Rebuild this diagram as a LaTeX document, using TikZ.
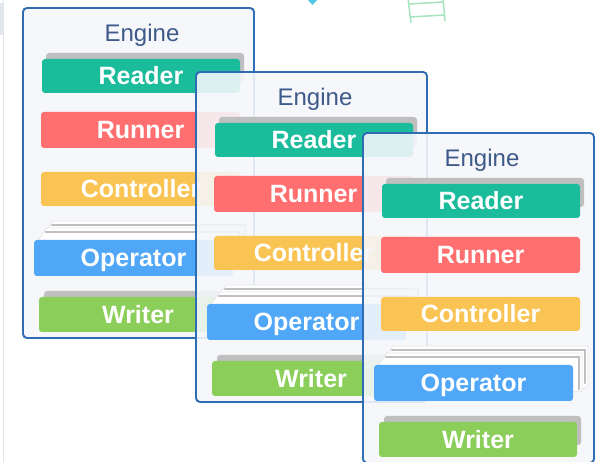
\documentclass[tikz,border=0pt]{standalone}
\usepackage{fontspec}
\setmainfont{Liberation Sans}
\definecolor{pborder}{HTML}{2E6DB4}
\definecolor{pfill}{HTML}{F5F7FA}
\definecolor{cread}{HTML}{1ABC9C}
\definecolor{crun}{HTML}{FF6F6F}
\definecolor{cctrl}{HTML}{F9C453}
\definecolor{cop}{HTML}{50A7F7}
\definecolor{cwrite}{HTML}{8BCE5A}
\definecolor{cshadow}{HTML}{BFBFBF}
\definecolor{clight}{HTML}{E6E6E6}
\definecolor{ceng}{HTML}{3D5A8A}
\definecolor{cladder}{HTML}{A6E4C0}
\definecolor{cdiam}{HTML}{4FC8E4}
\definecolor{cedge}{HTML}{E2E6EE}
\tikzset{
  item/.style={rectangle, rounded corners=3pt, inner sep=0pt, text=white,
    font=\bfseries\fontsize{25}{25}\selectfont, text height=18pt, text depth=0pt},
  enginelabel/.style={inner sep=0pt, text=ceng, font=\fontsize{24}{24}\selectfont,
    text height=18pt, text depth=0pt},
  shadowbar/.style={fill=cshadow, rounded corners=3pt},
  cardfill/.style={fill=white, draw=clight, line width=0.8pt, line join=round},
  cardedge/.style={draw=cshadow, line width=2.2pt, line cap=round},
  panelbg/.style={fill=pfill, fill opacity=0.89, rounded corners=4pt},
  panelline/.style={draw=pborder, line width=1.9pt, rounded corners=4pt}
}
\newcommand\enginepanel[3]{%
\begin{scope}[shift={(#2,#3)}]
  \fill[panelbg] (0,0) rectangle (231,330);
  \draw[panelline] (0,0) rectangle (231,330);
  \node[enginelabel] (#1-title) at (119,25) {Engine};
  \fill[shadowbar] (23,45) rectangle (221,74);
  \node[item, fill=cread, minimum width=198pt, minimum height=34pt] (#1-reader) at (118,68) {Reader};
  \node[item, fill=crun, minimum width=199pt, minimum height=36pt] (#1-runner) at (117.5,122) {Runner};
  \node[item, fill=cctrl, minimum width=199pt, minimum height=34pt] (#1-ctrl) at (117.5,181) {Controller};
  \filldraw[cardfill] (30,213) -- (225,213) -- (225,252) -- (218,258) -- (16,258) -- (16,232) -- cycle;
  \draw[cardedge] (29,217) -- (222,217) -- (222,250);
  \filldraw[cardfill] (24,220) -- (219,220) -- (219,258) -- (12,258) -- (12,236) -- cycle;
  \draw[cardedge] (23,224) -- (216,224) -- (216,256);
  \node[item, fill=cop, minimum width=199pt, minimum height=36pt] (#1-op) at (110.5,250) {Operator};
  \fill[shadowbar] (21,283) rectangle (218,312);
  \node[item, fill=cwrite, minimum width=198pt, minimum height=35pt] (#1-writer) at (115,306.5) {Writer};
\end{scope}}
\begin{document}
\begin{tikzpicture}[x=1pt,y=-1pt]
  \useasboundingbox (0,0) rectangle (598,462);
  \fill[white] (0,0) rectangle (598,462);
  % left edge decoration
  \fill[cedge] (0,3) rectangle (3,35);
  \draw[cedge, line width=1pt] (3,0) -- (3,462);
  % top decorations
  \fill[cdiam] (306,-2) -- (319,-2) -- (312.5,5) -- cycle;
  \draw[cladder, line width=1.5pt] (408,-2) -- (411,23);
  \draw[cladder, line width=1.5pt] (443,-2) -- (445,21);
  \draw[cladder, line width=1.5pt] (408.5,4) -- (443.5,2);
  \draw[cladder, line width=1.5pt] (410,17) -- (444.5,15);
  % panels
  \enginepanel{p1}{23}{8}
  \enginepanel{p2}{196}{72}
  \enginepanel{p3}{363}{133}
\end{tikzpicture}
\end{document}
